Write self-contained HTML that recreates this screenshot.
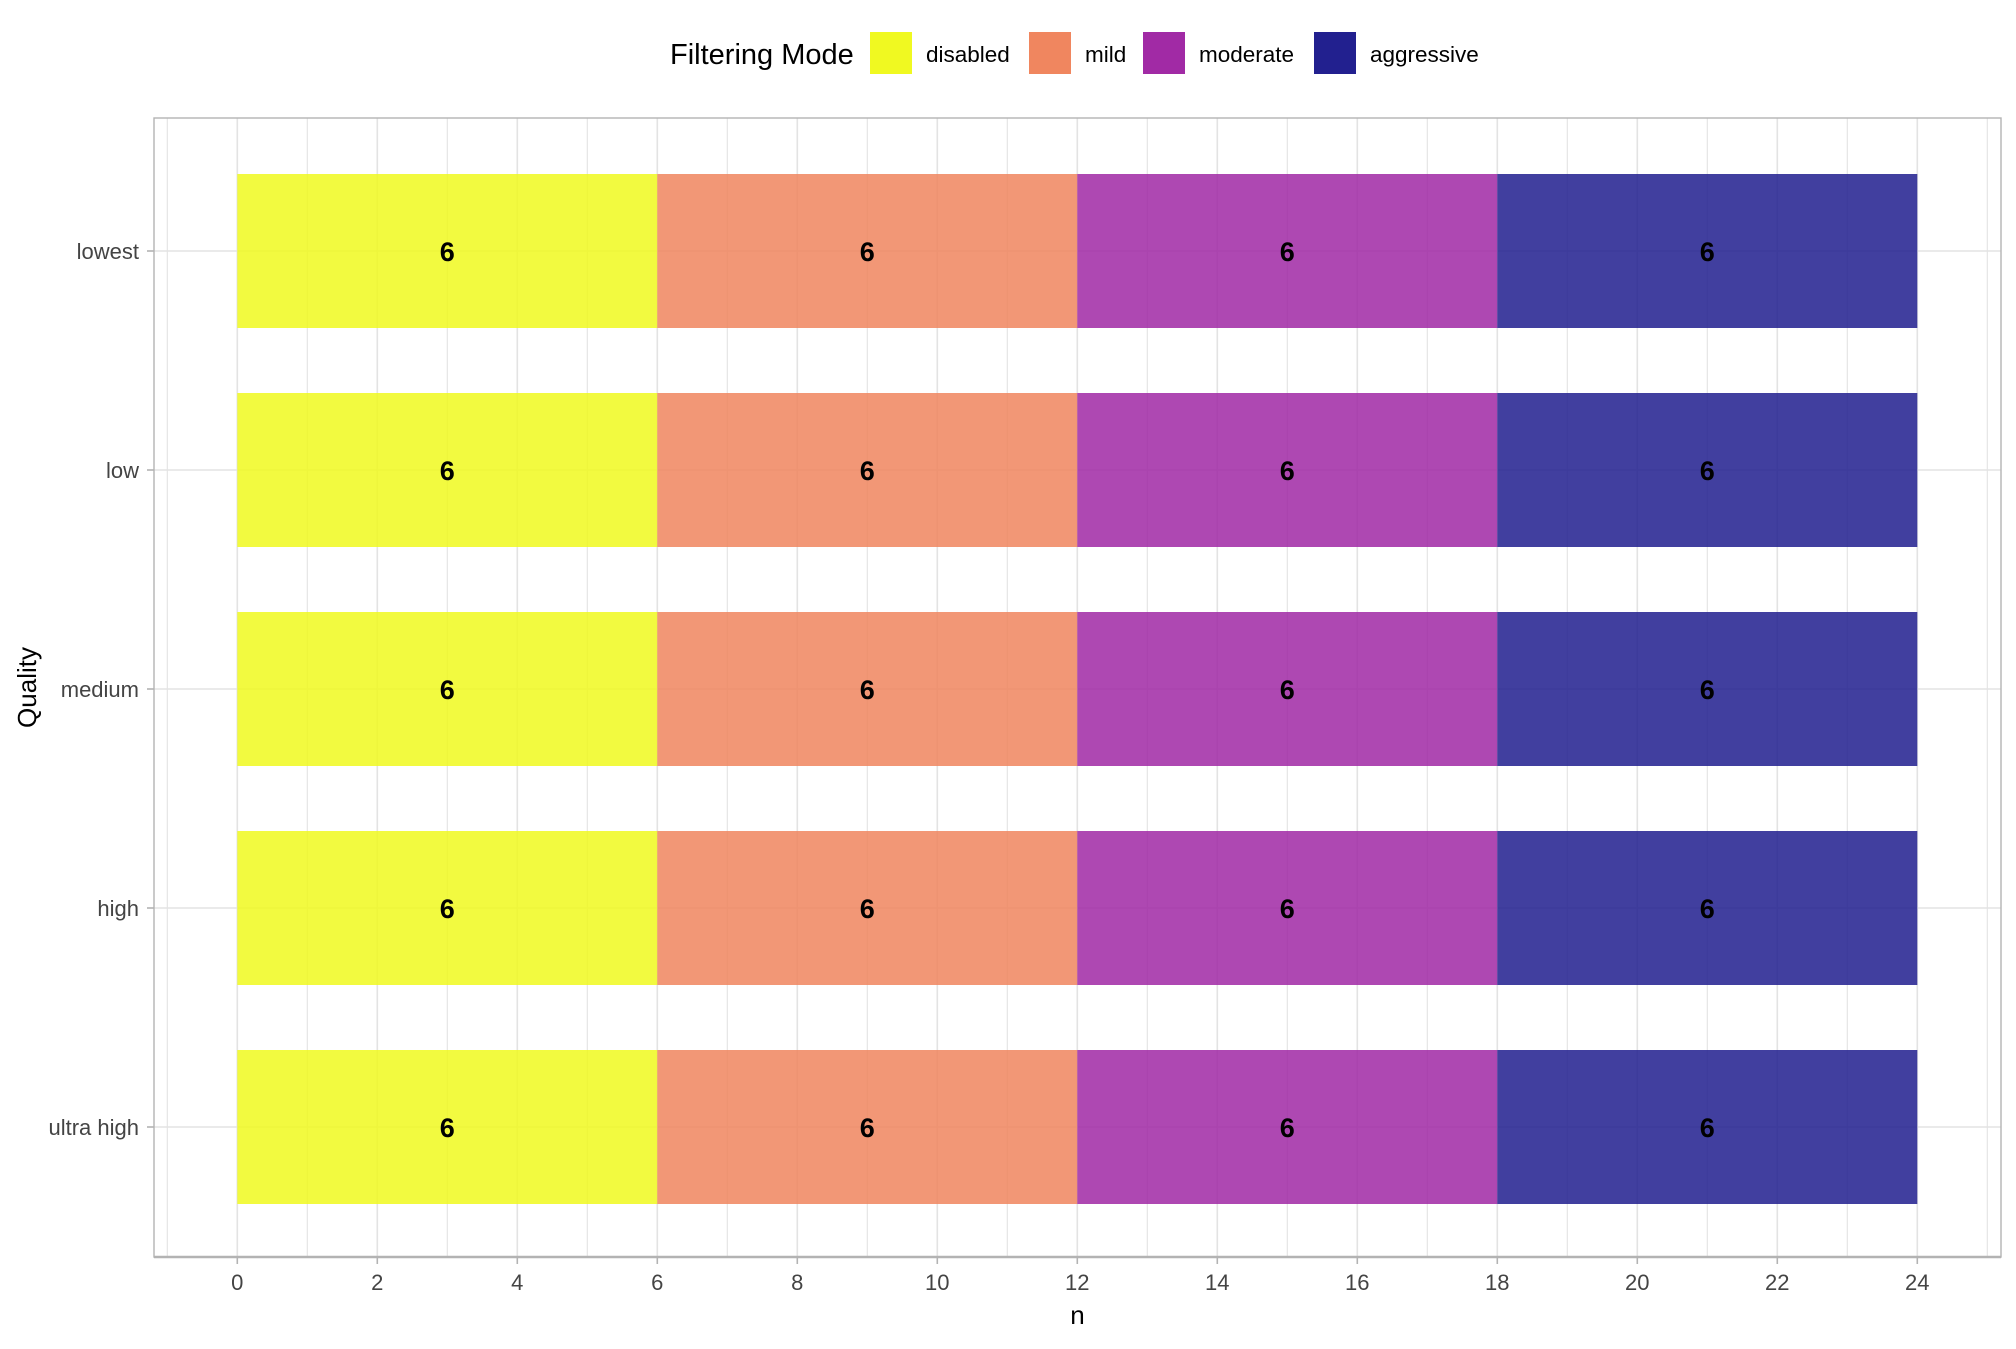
<!DOCTYPE html>
<html><head><meta charset="utf-8"><style>
html,body{margin:0;padding:0;background:#fff;}
svg text{font-family:"Liberation Sans",Arial,sans-serif;}
</style></head><body>
<svg id="chart" width="2016" height="1344" xmlns="http://www.w3.org/2000/svg">
<rect width="2016" height="1344" fill="#fff"/>
<g id="grid"></g>
<g id="bars"></g>
<g id="axes"></g>
<g id="legend"></g>
</svg>
<script>
const categories = ["lowest","low","medium","high","ultra high"];
const modes = ["disabled","mild","moderate","aggressive"];
const colors = ["#F0F921","#F0865F","#A12AA5","#22208F"];
const disabledVals = [6,6,6,6,6];
const mildVals = [6,6,6,6,6];
const moderateVals = [6,6,6,6,6];
const aggressiveVals = [6,6,6,6,6];
const xTicks = [0,2,4,6,8,10,12,14,16,18,20,22,24];

const NS="http://www.w3.org/2000/svg";
const series=[disabledVals,mildVals,moderateVals,aggressiveVals];
const PL=154, PR=2001, PT=118, PB=1257;
const x0=237.3, unit=70.0;
const xs=v=>x0+v*unit;
const ys=i=>251+i*219;
const barH=154;
function mk(tag,attrs,parent){const e=document.createElementNS(NS,tag);for(const k in attrs)e.setAttribute(k,attrs[k]);parent.appendChild(e);return e;}
const grid=document.getElementById('grid'),bars=document.getElementById('bars'),axes=document.getElementById('axes'),legend=document.getElementById('legend');

for(let v=-1;v<=25;v++){
  const l=mk('line',{x1:xs(v),x2:xs(v),y1:PT,y2:PB,stroke:'#e3e3e3','stroke-width':v%2===0?1.6:1.1},grid);
  
  
}
categories.forEach((c,i)=>{
  const l=mk('line',{x1:PL,x2:PR,y1:ys(i),y2:ys(i),stroke:'#e3e3e3','stroke-width':1.6},grid);
  
  
});
categories.forEach((c,i)=>{
  let cum=0;
  series.forEach((s,k)=>{
    const v=s[i];
    const r=mk('rect',{x:xs(cum),y:ys(i)-barH/2,width:xs(cum+v)-xs(cum),height:barH,fill:colors[k],'fill-opacity':0.86},bars);
    
    
    const t=mk('text',{x:xs(cum+v/2),y:ys(i)+10,'text-anchor':'middle','font-size':27,'font-weight':'bold',fill:'#000'},bars);
    t.textContent=v;
    
    
    cum+=v;
  });
});
const pb=mk('rect',{x:PL,y:PT,width:PR-PL,height:PB-PT,fill:'none',stroke:'#b3b3b3','stroke-width':1.4},axes);


const xa=mk('line',{x1:PL,x2:PR,y1:PB,y2:PB,stroke:'#b3b3b3','stroke-width':2.5},axes);


xTicks.forEach(v=>{
  const tk=mk('line',{x1:xs(v),x2:xs(v),y1:PB,y2:PB+7,stroke:'#b3b3b3','stroke-width':1.6},axes);
  
  
  const t=mk('text',{x:xs(v),y:1290,'text-anchor':'middle','font-size':22,fill:'#444'},axes);
  t.textContent=v;
  
  
});
categories.forEach((c,i)=>{
  const tk=mk('line',{x1:PL-7,x2:PL,y1:ys(i),y2:ys(i),stroke:'#b3b3b3','stroke-width':1.6},axes);
  
  
  const t=mk('text',{x:139,y:ys(i)+8,'text-anchor':'end','font-size':22,fill:'#444'},axes);
  t.textContent=c;
  
  
});
const xt=mk('text',{x:(PL+PR)/2,y:1324,'text-anchor':'middle','font-size':26,fill:'#000'},axes);
xt.textContent='n';


const yt=mk('text',{x:0,y:0,'text-anchor':'middle','font-size':26,fill:'#000',transform:'translate(36,'+((PT+PB)/2)+') rotate(-90)'},axes);
yt.textContent='Quality';


const lt=mk('text',{x:670,y:64,'font-size':29,fill:'#000'},legend);
lt.textContent='Filtering Mode';


const keyX=[870,1029,1143,1314];
modes.forEach((m,k)=>{
  const r=mk('rect',{x:keyX[k],y:32,width:42,height:42,fill:colors[k]},legend);
  
  
  const t=mk('text',{x:keyX[k]+56,y:62,'font-size':22.5,fill:'#000'},legend);
  t.textContent=m;
  
  
});
</script>
</body></html>
